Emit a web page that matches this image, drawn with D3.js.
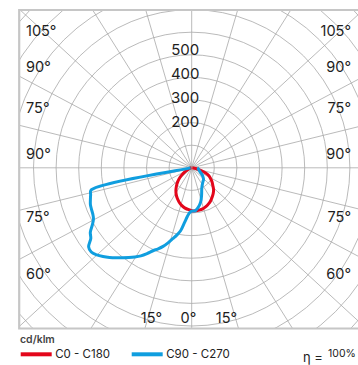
<!DOCTYPE html>
<html><head><meta charset="utf-8">
<script src="https://cdn.jsdelivr.net/npm/d3@7"></script>
<style>html,body{margin:0;padding:0;background:#fff;}svg{display:block;}</style>
</head><body><svg id="c" width="358" height="365"></svg>
<script>
// ---- data ----
const angles5 = [0,5,10,15,20,25,30,35,40,45,50,55,60,65,70,75,80,85,90];
const angles25 = [0,2.5,5,7.5,10,12.5,15,17.5,20,22.5,25,27.5,30,32.5,35,37.5,40,42.5,45,47.5,50,52.5,55,57.5,60,62.5,65,67.5,70,72.5,75,77.5,80,82.5,85,87.5,90];
const redC0   = [190,191,190,188,183,176,168,158,148,137,122,110,97,84,62,36,18,8,3];
const redC180 = [190,185,180,172,162,150,137,122,105,88,70,50,32,20,12,7,4,2,1];
const blueC90 = [192,190,175,155,128,105,92,84,78,74,66,58,48,40,36,33,30,28,25];
const blueC270 = [192,198,215,245,283,305,325,348,370,388,405,428,450,468,485,502,520,538,555,570,580,575,545,532,508,490,483,480,477,470,463,456,15,10,8,6,5];
const ringValues = [100,200,300,400,500,600,700,800,900,1000];
const ringLabels = [200,300,400,500];
const spokeAngles = d3.range(0,360,15);
const leftAngleLabels  = ["105°","90°","75°","90°","75°","60°"];
const rightAngleLabels = ["105°","90°","75°","90°","75°","60°"];
const bottomAngleLabels = ["15°","0°","15°"];
const seriesNames = ["C0 - C180","C90 - C270"];
const seriesColors = ["#e3061b","#109edf"];
const unitLabel = "cd/klm";
const etaLabel = "η =";
const etaValue = "100%";

// ---- layout ----
const svg = d3.select("#c");
const cx = 191.7, cy = 167.8;
const frame = {x0:19.2, y0:10, x1:364, y1:328.5};
const r = d3.scaleLinear().domain([0,100]).range([0,22.6]);
const kSpoke = 0.92;
const font = "Inter, 'Noto Sans', sans-serif";

svg.append("defs").append("clipPath").attr("id","fc")
  .append("rect").attr("x",frame.x0).attr("y",frame.y0)
  .attr("width",frame.x1-frame.x0).attr("height",frame.y1-frame.y0);

const grid = svg.append("g").attr("clip-path","url(#fc)");
grid.selectAll("circle.ring").data(ringValues).join("circle")
  .attr("cx",cx).attr("cy",cy).attr("r",d=>r(d))
  .attr("fill","none").attr("stroke","#a8a8a8").attr("stroke-width",0.8);
grid.selectAll("line.spoke").data(spokeAngles).join("line")
  .attr("x1",cx).attr("y1",cy)
  .attr("x2",a=>cx+400*Math.cos(a*Math.PI/180))
  .attr("y2",a=>cy-400*kSpoke*Math.sin(a*Math.PI/180))
  .attr("stroke","#a8a8a8").attr("stroke-width",0.8);

// frame
svg.append("path")
  .attr("d",`M${frame.x1},${frame.y0}H${frame.x0}V${frame.y1}H${frame.x1}`)
  .attr("fill","none").attr("stroke","#c6c6c6").attr("stroke-width",2.2);

// radial labels
svg.selectAll("text.rl").data(ringLabels).join("text")
  .attr("x",cx-6.5).attr("y",(d,i)=>cy-r(d)+4.5-i*1.6)
  .attr("text-anchor","middle").attr("font-family",font).attr("font-size",15)
  .attr("fill","#1e1e1e").text(d=>d);

// angle labels
const rowY = [36,72,113,159,222,279];
svg.selectAll("text.la").data(leftAngleLabels).join("text")
  .attr("x",26).attr("y",(d,i)=>rowY[i]).attr("font-family",font).attr("font-size",14.5)
  .attr("fill","#1e1e1e").text(d=>d);
svg.selectAll("text.ra").data(rightAngleLabels).join("text")
  .attr("x",351).attr("y",(d,i)=>rowY[i]).attr("text-anchor","end").attr("font-family",font).attr("font-size",14.5)
  .attr("fill","#1e1e1e").text(d=>d);
const bottomX = [151.5,188.5,226.5];
svg.selectAll("text.ba").data(bottomAngleLabels).join("text")
  .attr("x",(d,i)=>bottomX[i]).attr("y",323).attr("text-anchor","middle").attr("font-family",font).attr("font-size",14.5)
  .attr("fill","#1e1e1e").text(d=>d);

// curves
function pts2(aR, right, aL, left){
  const p = [];
  for(let i=aL.length-1;i>=0;i--) p.push([-1, aL[i], left[i]]);
  for(let i=1;i<aR.length;i++) p.push([1, aR[i], right[i]]);
  return p;
}
const line = d3.line()
  .x(d=>cx + d[0]*r(d[2])*Math.sin(d[1]*Math.PI/180))
  .y(d=>cy + r(d[2])*Math.cos(d[1]*Math.PI/180))
  .curve(d3.curveCatmullRom.alpha(0.5));
const curves = svg.append("g").attr("clip-path","url(#fc)");
curves.append("path").attr("d",line(pts2(angles5, redC0, angles5, redC180)))
  .attr("fill","none").attr("stroke",seriesColors[0]).attr("stroke-width",3).attr("stroke-linejoin","round");
curves.append("path").attr("d",line(pts2(angles5, blueC90, angles25, blueC270)))
  .attr("fill","none").attr("stroke",seriesColors[1]).attr("stroke-width",3).attr("stroke-linejoin","round");

// legend
svg.append("text").attr("x",20).attr("y",342.7).attr("font-family",font).attr("font-size",10.5)
  .attr("font-weight",600).attr("fill","#444").text(unitLabel);
const legX = [20.7,131.7];
seriesNames.forEach((n,i)=>{
  svg.append("line").attr("x1",legX[i]).attr("x2",legX[i]+31).attr("y1",354.3).attr("y2",354.3)
    .attr("stroke",seriesColors[i]).attr("stroke-width",4);
  svg.append("text").attr("x",legX[i]+34.5).attr("y",357.5).attr("font-family",font).attr("font-size",11.5)
    .attr("fill","#222").text(n);
});
svg.append("text").attr("x",303).attr("y",362).attr("font-family",font).attr("font-size",13)
  .attr("fill","#222").text(etaLabel);
svg.append("text").attr("x",328).attr("y",357).attr("font-family",font).attr("font-size",10.5)
  .attr("fill","#222").text(etaValue);
</script></body></html>
